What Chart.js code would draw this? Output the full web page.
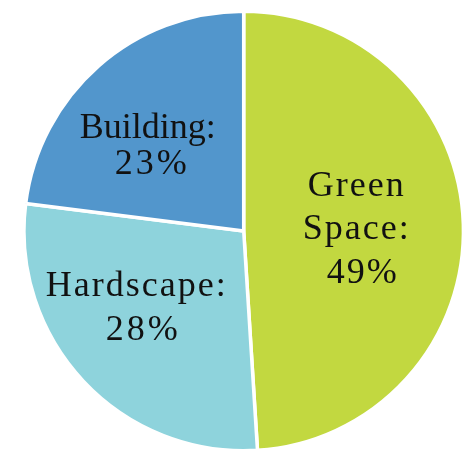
<!DOCTYPE html>
<html>
<head>
<meta charset="utf-8">
<script src="https://cdn.jsdelivr.net/npm/chart.js@4.4.0/dist/chart.umd.min.js"></script>
<style>
html,body{margin:0;padding:0;background:#fff;}
#c{display:block;}
</style>
</head>
<body>
<canvas id="c" width="474" height="455"></canvas>
<script>
const categories = ["Green Space", "Hardscape", "Building"];
const values = [49, 28, 23];
const colors = ["#c2d840", "#8ed3dc", "#5296cc"];
const labelLines = [["Green", "Space:", "49%"], ["Hardscape:", "28%"], ["Building:", "23%"]];

// label layout: offsets from pie centre (dx per line, baseline dy per line), letter spacing per line
const labelLayout = [
  {dx: [112, 112, 118], dy: [-35, 8, 52], ls: [2, 2, 2]},
  {dx: [-108, -102], dy: [65, 109], ls: [2, 3]},
  {dx: [-96, -93], dy: [-93, -57], ls: [0, 3]}
];

const labelPlugin = {
  id: 'sliceLabels',
  afterDatasetsDraw(chart) {
    const ctx = chart.ctx;
    const arc = chart.getDatasetMeta(0).data[0];
    const cx = arc.x, cy = arc.y;
    ctx.save();
    ctx.fillStyle = '#111';
    ctx.font = '36px "Liberation Serif", "Times New Roman", serif';
    ctx.textAlign = 'center';
    ctx.textBaseline = 'alphabetic';
    labelLines.forEach((lines, i) => {
      const L = labelLayout[i];
      lines.forEach((t, j) => {
        ctx.letterSpacing = L.ls[j] + 'px';
        ctx.fillText(t, cx + L.dx[j] + L.ls[j] / 2, cy + L.dy[j]);
      });
    });
    ctx.restore();
  }
};

new Chart(document.getElementById('c'), {
  type: 'pie',
  data: {
    labels: categories,
    datasets: [{
      data: values,
      backgroundColor: colors,
      borderColor: '#ffffff',
      borderWidth: 3.5,
      hoverOffset: 0
    }]
  },
  options: {
    responsive: false,
    animation: false,
    events: [],
    layout: {padding: {left: 18.4, right: 5, top: 9.5, bottom: 2.5}},
    plugins: {legend: {display: false}, tooltip: {enabled: false}}
  },
  plugins: [labelPlugin]
});
</script>
</body>
</html>
